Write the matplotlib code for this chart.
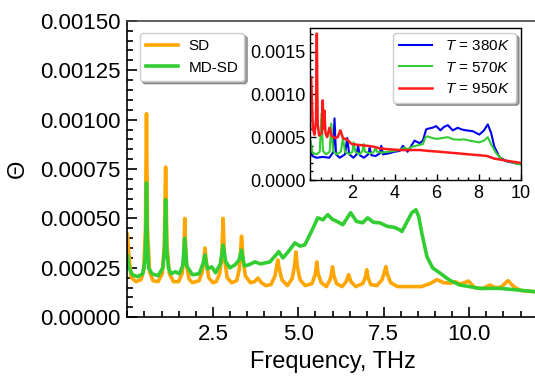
import matplotlib
matplotlib.use('Agg')
import matplotlib.pyplot as plt
from matplotlib.ticker import MultipleLocator, FormatStrFormatter
import numpy as np

plt.rcParams['font.family'] = ['Liberation Sans', 'DejaVu Sans']
plt.rcParams['mathtext.fontset'] = 'custom'
plt.rcParams['mathtext.rm'] = 'Liberation Sans'
plt.rcParams['mathtext.it'] = 'Liberation Sans:italic'

# main spectrum, values in units of 1e-4
freq_sd = [0.00, 0.05, 0.12, 0.25, 0.40,
           0.48, 0.53, 0.56, 0.59, 0.65,
           0.75, 0.90, 1.02, 1.08, 1.12,
           1.16, 1.23, 1.35, 1.50, 1.60,
           1.65, 1.68, 1.72, 1.80, 1.90,
           2.10, 2.19, 2.24, 2.27, 2.31,
           2.38, 2.50, 2.60, 2.70, 2.76,
           2.80, 2.84, 2.92, 3.05, 3.20,
           3.27, 3.31, 3.34, 3.38, 3.45,
           3.60, 3.72, 3.82, 3.92, 4.05,
           4.20, 4.32, 4.37, 4.40, 4.44,
           4.52, 4.68, 4.82, 4.89, 4.93,
           4.97, 5.05, 5.20, 5.40, 5.50,
           5.54, 5.58, 5.67, 5.82, 5.93,
           5.97, 6.00, 6.04, 6.12, 6.28,
           6.40, 6.47, 6.54, 6.68, 6.88,
           6.96, 7.00, 7.04, 7.12, 7.30,
           7.45, 7.52, 7.56, 7.60, 7.70,
           7.90, 8.20, 8.60, 8.85, 9.05,
           9.25, 9.45, 9.58, 9.75, 9.98,
           10.15, 10.40, 10.60, 10.78, 10.95,
           11.13, 11.30, 11.50, 12.00]
theta_sd = [4.2, 3.0, 2.0, 1.8, 1.9,
            2.4, 4.5, 10.3, 4.5, 2.3,
            1.85, 1.8, 2.2, 3.6, 7.6,
            3.6, 2.2, 1.8, 1.8, 2.2,
            2.9, 5.0, 2.8, 1.95, 1.75,
            1.85, 2.3, 2.9, 3.5, 2.8,
            2.0, 1.75, 1.8, 2.2, 3.0,
            5.0, 3.0, 2.0, 1.75, 1.85,
            2.4, 3.2, 4.1, 3.0, 2.1,
            1.75, 1.8, 1.98, 1.75, 1.6,
            1.65, 2.1, 2.6, 2.9, 2.5,
            1.9, 1.6, 1.95, 2.6, 3.3,
            2.6, 1.9, 1.6, 1.7, 2.2,
            2.8, 2.2, 1.75, 1.55, 1.9,
            2.2, 2.55, 2.1, 1.7, 1.55,
            1.8, 2.15, 1.8, 1.55, 1.7,
            2.0, 2.4, 2.0, 1.65, 1.6,
            1.9, 2.3, 2.56, 2.2, 1.75,
            1.55, 1.55, 1.55, 1.7, 1.9,
            1.75, 1.72, 1.8, 1.68, 1.83,
            1.5, 1.45, 1.63, 1.48, 1.55,
            1.85, 1.55, 1.35, 1.28]

freq_md = [0.00, 0.05, 0.15, 0.30, 0.45,
           0.51, 0.54, 0.56, 0.58, 0.62,
           0.72, 0.90, 1.04, 1.09, 1.12,
           1.15, 1.20, 1.28, 1.40, 1.52,
           1.62, 1.68, 1.74, 1.90, 2.10,
           2.21, 2.27, 2.34, 2.47, 2.58,
           2.72, 2.80, 2.88, 3.00, 3.15,
           3.27, 3.34, 3.42, 3.55, 3.73,
           3.90, 4.17, 4.43, 4.55, 4.70,
           4.90, 5.05, 5.19, 5.40, 5.57,
           5.72, 5.86, 6.00, 6.13, 6.30,
           6.53, 6.70, 6.88, 7.03, 7.20,
           7.38, 7.60, 7.80, 7.97, 8.03,
           8.20, 8.32, 8.44, 8.52, 8.61,
           8.76, 8.93, 9.14, 9.42, 9.72,
           10.00, 10.30, 10.90, 11.47, 12.00]
theta_md = [3.1, 2.5, 2.15, 2.05, 2.2,
            2.8, 4.0, 6.8, 4.0, 2.5,
            2.2, 2.1, 2.5, 3.5, 5.95,
            3.5, 2.5, 2.2, 2.3, 2.2,
            2.6, 4.0, 2.6, 2.15, 2.2,
            2.7, 3.15, 2.45, 2.55, 2.25,
            2.7, 3.65, 2.8, 2.5, 2.65,
            2.9, 3.4, 2.6, 2.65, 2.8,
            2.7, 2.8, 3.32, 3.0, 3.3,
            3.76, 3.6, 3.66, 4.4, 5.03,
            4.93, 5.19, 4.95, 4.85, 4.68,
            5.29, 4.85, 4.78, 5.03, 4.8,
            4.78, 4.6, 4.55, 4.42, 4.34,
            4.9, 5.29, 5.44, 5.1, 4.27,
            3.07, 2.49, 2.24, 1.88, 1.63,
            1.55, 1.46, 1.46, 1.37, 1.28]

# inset: three temperatures, units of 1e-4
freq_380 = [0.02, 0.1, 0.3, 0.6, 0.9,
            1.08, 1.15, 1.22, 1.4, 1.65,
            1.75, 1.85, 2.05, 2.2, 2.27,
            2.35, 2.55, 2.75, 2.82, 2.9,
            3.1, 3.3, 3.37, 3.45, 3.7,
            4.0, 4.25, 4.4, 4.62, 4.8,
            4.95, 5.19, 5.35, 5.5, 5.6,
            5.8, 5.98, 6.18, 6.35, 6.53,
            6.77, 7.0, 7.2, 7.4, 7.72,
            8.03, 8.25, 8.43, 8.59, 8.74,
            8.98, 9.3, 9.85, 10.0]
theta_380 = [3.2, 2.8, 2.6, 2.7, 2.6,
             3.2, 7.2, 3.0, 2.6, 3.0,
             4.9, 3.0, 2.6, 3.0, 4.0,
             2.9, 2.6, 3.0, 3.8, 2.9,
             2.8, 3.1, 4.0, 3.0, 3.1,
             3.3, 3.4, 4.0, 3.3, 4.0,
             4.6, 4.3, 4.6, 5.9, 6.0,
             6.1, 6.3, 5.8, 6.2, 6.4,
             5.8, 6.1, 5.9, 5.8, 5.7,
             5.3, 5.8, 6.5, 5.5, 3.9,
             2.7, 2.2, 1.9, 1.85]

freq_570 = [0.02, 0.1, 0.3, 0.45, 0.53,
            0.6, 0.75, 0.92, 1.0, 1.08,
            1.25, 1.45, 1.55, 1.65, 1.85,
            2.0, 2.06, 2.14, 2.35, 2.48,
            2.53, 2.6, 2.85, 3.03, 3.09,
            3.17, 3.4, 3.7, 4.0, 4.24,
            4.48, 4.6, 4.86, 5.19, 5.35,
            5.47, 5.57, 5.8, 6.0, 6.25,
            6.53, 6.8, 7.08, 7.3, 7.56,
            8.03, 8.25, 8.43, 8.6, 8.84,
            9.12, 9.69, 10.0]
theta_570 = [4.5, 3.2, 3.0, 3.3, 7.8,
             3.4, 3.0, 3.3, 6.6, 3.4,
             3.0, 3.3, 4.9, 3.3, 3.0,
             3.3, 4.4, 3.3, 3.0, 3.4,
             4.2, 3.3, 3.1, 3.3, 3.8,
             3.3, 3.2, 3.3, 3.4, 3.5,
             3.8, 3.6, 3.9, 4.1, 4.2,
             5.0, 5.1, 4.9, 4.8, 4.9,
             5.0, 4.75, 4.7, 4.75, 4.6,
             4.4, 4.6, 5.0, 4.1, 3.1,
             2.4, 2.0, 1.8]

freq_950 = [0.04, 0.12, 0.2, 0.27, 0.31,
            0.35, 0.42, 0.55, 0.59, 0.63,
            0.67, 0.72, 0.8, 0.91, 1.0,
            1.15, 1.3, 1.43, 1.55, 1.75,
            1.97, 2.3, 2.7, 3.0, 3.29,
            3.7, 4.24, 4.7, 5.19, 5.6,
            6.14, 6.6, 7.08, 7.5, 8.03,
            8.4, 8.74, 9.1, 9.45, 10.0]
theta_950 = [12.0, 6.0, 5.3, 7.0, 17.1,
             6.5, 5.2, 5.5, 9.3, 6.0,
             8.1, 5.5, 5.0, 6.1, 5.2,
             4.9, 5.0, 5.8, 4.9, 4.7,
             4.2, 4.1, 4.0, 3.9, 3.7,
             3.6, 3.5, 3.5, 3.5, 3.4,
             3.3, 3.2, 3.1, 3.0, 2.9,
             2.8, 2.5, 2.35, 2.2, 2.0]

scale = 1e-4

fig = plt.figure(figsize=(5.35, 3.79), dpi=100)
ax = fig.add_axes([0.238, 0.163, 0.767, 0.782])

ax.plot(freq_sd, np.array(theta_sd) * scale, color='#FFA500', lw=2.6, label='SD')
ax.plot(freq_md, np.array(theta_md) * scale, color='#32CD32', lw=2.6, label='MD-SD')

ax.set_xlim(0, 12)
ax.set_ylim(0, 0.0015)
ax.xaxis.set_major_locator(MultipleLocator(2.5))
ax.xaxis.set_minor_locator(MultipleLocator(0.5))
ax.yaxis.set_major_locator(MultipleLocator(0.00025))
ax.yaxis.set_minor_locator(MultipleLocator(0.00005))
ax.xaxis.set_major_formatter(FormatStrFormatter('%.1f'))
ax.yaxis.set_major_formatter(FormatStrFormatter('%.5f'))
ax.set_xticks([2.5, 5.0, 7.5, 10.0])
ax.tick_params(which='both', direction='in', top=False, right=False,
               labelsize=16, width=1.2, pad=5)
ax.tick_params(which='major', length=7)
ax.tick_params(which='minor', length=4.5)
for s in ax.spines.values():
    s.set_linewidth(1.2)
ax.spines['top'].set_color('#444444')
ax.set_xlabel('Frequency, THz', fontsize=17)
ax.set_ylabel('Θ', fontsize=17, labelpad=8)

leg = ax.legend(loc='upper left', fontsize=11, shadow=True, fancybox=True,
                framealpha=1, edgecolor='#cccccc', borderaxespad=0.8,
                handlelength=2.1, handletextpad=0.7)

# inset
ins = fig.add_axes([0.580, 0.525, 0.3935, 0.40])
ins.plot(freq_380, np.array(theta_380) * scale, color='#0000EE', lw=1.5, label='$T$ = 380$K$')
ins.plot(freq_570, np.array(theta_570) * scale, color='#33CC33', lw=1.5, label='$T$ = 570$K$')
ins.plot(freq_950, np.array(theta_950) * scale, color='#FF1A1A', lw=1.8, label='$T$ = 950$K$')
ins.set_xlim(0, 10)
ins.set_ylim(0, 0.00177)
ins.set_xticks([2, 4, 6, 8, 10])
ins.xaxis.set_minor_locator(MultipleLocator(0.5))
ins.yaxis.set_major_locator(MultipleLocator(0.0005))
ins.yaxis.set_minor_locator(MultipleLocator(0.0001))
ins.yaxis.set_major_formatter(FormatStrFormatter('%.4f'))
ins.tick_params(which='both', direction='in', top=False, right=False,
                labelsize=13, width=1.0)
ins.tick_params(which='major', length=4.5)
ins.tick_params(which='minor', length=2.5)
for s in ins.spines.values():
    s.set_linewidth(1.0)
ins.legend(loc='upper right', fontsize=11, shadow=True, fancybox=True,
           framealpha=1, edgecolor='#cccccc', borderaxespad=0.3,
           handlelength=2.2, handletextpad=0.85)

fig.savefig('out.png', dpi=100)
